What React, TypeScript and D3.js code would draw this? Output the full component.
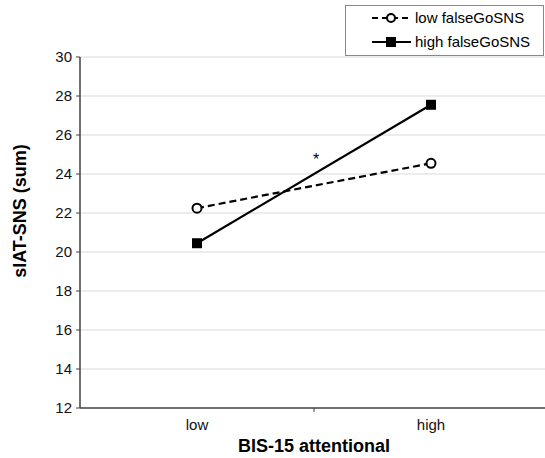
import React from "react";
import * as d3 from "d3";

const categories = ["low", "high"];
const lowSeries = [22.25, 24.55];
const highSeries = [20.45, 27.55];
const yTicks = [12, 14, 16, 18, 20, 22, 24, 26, 28, 30];
const seriesNames = ["low falseGoSNS", "high falseGoSNS"];

export default function App() {
  const W = 545, H = 458;
  const left = 80, right = 548, top = 57, bottom = 408;
  const x = d3.scaleBand().domain(categories).range([left, right]);
  const cx = (c: string) => (x(c) as number) + x.bandwidth() / 2;
  const y = d3.scaleLinear().domain([12, 30]).range([bottom, top]);
  const line = d3.line<number>().x((_, i) => cx(categories[i])).y((d) => y(d));
  const font = "Arial, 'Liberation Sans', sans-serif";
  return (
    <svg width={W} height={H} style={{ position: "absolute", left: 0, top: 0 }} fontFamily={font}>
      <rect width={W} height={H} fill="#fff" />
      {yTicks.slice(1).map((t) => (
        <line key={t} x1={left} x2={W} y1={y(t)} y2={y(t)} stroke="#d9d9d9" strokeWidth={1} />
      ))}
      {yTicks.map((t) => (
        <g key={"t" + t}>
          <line x1={left - 4} x2={left} y1={y(t)} y2={y(t)} stroke="#404040" />
          <text x={left - 8} y={y(t)} dy="0.35em" textAnchor="end" fontSize={15} fill="#111">{t}</text>
        </g>
      ))}
      <line x1={left} x2={left} y1={top} y2={bottom} stroke="#404040" strokeWidth={1.5} />
      <line x1={left} x2={W} y1={bottom} y2={bottom} stroke="#404040" strokeWidth={1.5} />
      <line x1={x("high") as number} x2={x("high") as number} y1={bottom} y2={bottom + 4} stroke="#404040" />
      {categories.map((c) => (
        <text key={c} x={cx(c)} y={bottom + 22} textAnchor="middle" fontSize={15} fill="#111">{c}</text>
      ))}
      <text x={314} y={452} textAnchor="middle" fontSize={18} fontWeight="bold">BIS-15 attentional</text>
      <text transform={`translate(26,211) rotate(-90)`} textAnchor="middle" fontSize={18} fontWeight="bold">sIAT-SNS (sum)</text>
      <path d={line(lowSeries) as string} fill="none" stroke="#000" strokeWidth={2.2} strokeDasharray="7,4" />
      <path d={line(highSeries) as string} fill="none" stroke="#000" strokeWidth={2.2} />
      {lowSeries.map((v, i) => (
        <circle key={"c" + i} cx={cx(categories[i])} cy={y(v)} r={4.5} fill="#fff" stroke="#000" strokeWidth={2} />
      ))}
      {highSeries.map((v, i) => (
        <rect key={"s" + i} x={cx(categories[i]) - 5} y={y(v) - 5} width={10} height={10} fill="#000" />
      ))}
      <text x={316} y={165} textAnchor="middle" fontSize={16} fill="#000">*</text>
      <rect x={345.5} y={5.5} width={198} height={50} fill="#fff" stroke="#888" />
      <line x1={372} x2={411} y1={18} y2={18} stroke="#000" strokeWidth={2.2} strokeDasharray="6,4" />
      <circle cx={391} cy={18} r={4} fill="#fff" stroke="#000" strokeWidth={2} />
      <text x={415} y={18} dy="0.35em" fontSize={15}>{seriesNames[0]}</text>
      <line x1={372} x2={411} y1={42} y2={42} stroke="#000" strokeWidth={2.2} />
      <rect x={386} y={37} width={10} height={10} fill="#000" />
      <text x={415} y={42} dy="0.35em" fontSize={15}>{seriesNames[1]}</text>
    </svg>
  );
}
